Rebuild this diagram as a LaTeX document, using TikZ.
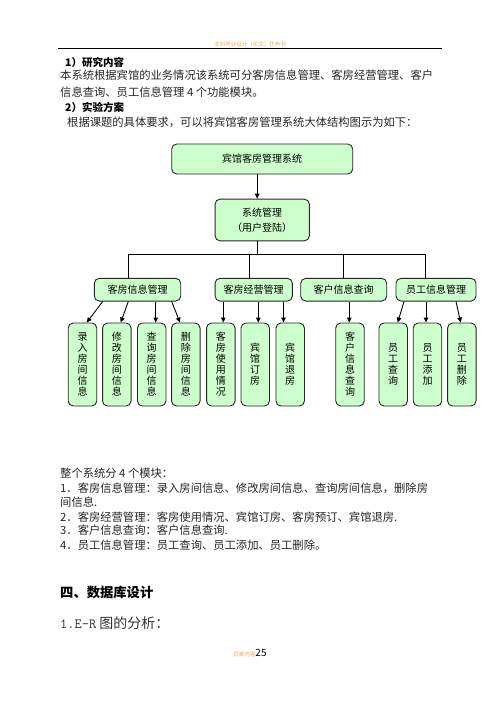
\documentclass[tikz,border=0pt]{standalone}
\usepackage{fontspec}
\setmainfont{Noto Sans CJK SC}
\usepackage{xcolor}
\usetikzlibrary{arrows.meta}
\definecolor{boxgreen}{RGB}{204,255,204}
\definecolor{pageorange}{RGB}{245,165,90}

\begin{document}
\begin{tikzpicture}[
    x=1pt, y=-1pt,
    box/.style={rectangle, draw=black!85, fill=boxgreen, rounded corners=5pt, line width=0.9pt, inner sep=0pt, align=center, font=\fontsize{10}{15}\selectfont},
    leaf/.style={box, minimum width=28.5pt, minimum height=83pt, font=\fontsize{10}{11}\selectfont},
    arrow/.style={-{Triangle[length=5pt, width=4.5pt]}, line width=0.9pt},
    link/.style={line width=0.9pt},
    body/.style={anchor=west, inner sep=0pt, text=black!85, font=\fontsize{11.3}{13}\selectfont},
    title/.style={anchor=west, inner sep=0pt, font=\fontsize{10.5}{12}\selectfont\bfseries}
]
    \fill[white] (0,0) rectangle (500,706);
    \useasboundingbox (0,0) rectangle (500,706);

    % page header
    \node[inner sep=0pt, text=pageorange, font=\fontsize{5.5}{6}\selectfont] (hdr) at (250,44) {本科毕业设计（论文）任务书};
    \coordinate (ruleL) at (58,48);
    \coordinate (ruleR) at (442,48);
    \draw[line width=0.6pt] (ruleL) -- (ruleR);

    % text above the chart
    \node[title] (t1) at (65,62) {1）研究内容};
    \node[body] (p1) at (60,75) {本系统根据宾馆的业务情况该系统可分客房信息管理、客房经营管理、客户};
    \node[body] (p2) at (60,92) {信息查询、员工信息管理 4 个功能模块。};
    \node[title] (t2) at (65,107) {2）实验方案};
    \node[body] (p3) at (67,122) {根据课题的具体要求，可以将宾馆客房管理系统大体结构图示为如下：};

    % chart: top levels
    \node[box, minimum width=181pt, minimum height=30pt] (xt) at (262.2,159) {宾馆客房管理系统};
    \node[box, minimum width=94.3pt, minimum height=41.7pt] (gl) at (262.2,220) {系统管理\\（用户登陆）};

    \node[box, minimum width=86.4pt, minimum height=22.7pt] (kfxx) at (137.5,289.7) {客房信息管理};
    \node[box, minimum width=77.3pt, minimum height=22.7pt] (kfjy) at (253.7,289.7) {客房经营管理};
    \node[box, minimum width=86pt, minimum height=22.7pt] (khcx) at (343.7,289.7) {客户信息查询};
    \node[box, minimum width=80pt, minimum height=22.7pt] (ygxx) at (436,289.7) {员工信息管理};

    % chart: leaves
    \node[leaf] (lr) at (82.5,364.5) {录\\入\\房\\间\\信\\息};
    \node[leaf] (xg) at (116.8,364.5) {修\\改\\房\\间\\信\\息};
    \node[leaf] (cx) at (151.7,364.5) {查\\询\\房\\间\\信\\息};
    \node[leaf] (sc) at (185.8,364.5) {删\\除\\房\\间\\信\\息};
    \node[leaf] (sy) at (220.8,364.5) {客\\房\\使\\用\\情\\况};
    \node[leaf] (dk) at (255.2,364.5) {宾\\馆\\订\\房};
    \node[leaf] (tf) at (290.2,364.5) {宾\\馆\\退\\房};
    \node[leaf] (kh) at (350,364.5) {客\\户\\信\\息\\查\\询};
    \node[leaf] (ycx) at (393.2,364.5) {员\\工\\查\\询};
    \node[leaf] (ytj) at (427.5,364.5) {员\\工\\添\\加};
    \node[leaf] (ysc) at (461.8,364.5) {员\\工\\删\\除};

    % connectors
    \draw[arrow] ([xshift=-5pt]xt.south) -- ([xshift=-5pt]gl.north);

    \coordinate (barL) at (128.3,254.3);
    \coordinate (barR) at (425.7,254.3);
    \draw[link] ([xshift=-5pt]gl.south) -- ([xshift=-5pt]gl.south |- barL);
    \draw[link] (barL) -- (barR);
    \draw[link] (barL) -- (barL |- kfxx.north);
    \draw[link] ([xshift=-4.4pt]kfjy.north |- barL) -- ([xshift=-4.4pt]kfjy.north);
    \draw[link] (khcx.north |- barL) -- (khcx.north);
    \draw[link] (barR) -- (barR |- ygxx.north);

    \draw[arrow] ([xshift=-34.8pt]kfxx.south) -- ([xshift=4.2pt]lr.north);
    \draw[arrow] ([xshift=-9.2pt]kfxx.south) -- ([xshift=3.9pt]xg.north);
    \draw[arrow] ([xshift=18.2pt]kfxx.south) -- ([xshift=4pt]cx.north);
    \draw[arrow] ([xshift=34.2pt]kfxx.south) -- ([xshift=-5.8pt]sc.north);

    \draw[arrow] ([xshift=-30.4pt]kfjy.south) -- ([xshift=2.5pt]sy.north);
    \draw[arrow] ([xshift=4.6pt]kfjy.south) -- ([xshift=3.1pt]dk.north);
    \draw[arrow] ([xshift=29.8pt]kfjy.south) -- ([xshift=-6.7pt]tf.north);

    \draw[arrow] ([xshift=5.6pt]khcx.south) -- ([xshift=-0.7pt]kh.north);

    \draw[arrow] ([xshift=-32pt]ygxx.south) -- ([xshift=4.5pt]ycx.north);
    \draw[arrow] ([xshift=-10pt]ygxx.south) -- ([xshift=-1.5pt]ytj.north);
    \draw[arrow] ([xshift=20pt]ygxx.south) -- ([xshift=-1.1pt]ysc.north);

    % text below the chart
    \node[body] (q0) at (60,473.3) {整个系统分 4 个模块：};
    \node[body] (q1) at (60,488.3) {1．客房信息管理：录入房间信息、修改房间信息、查询房间信息，删除房};
    \node[body] (q1b) at (60,501.7) {间信息.};
    \node[body] (q2) at (60,516.7) {2．客房经营管理：客房使用情况、宾馆订房、客房预订、宾馆退房.};
    \node[body] (q3) at (60,530.5) {3．客户信息查询：客户信息查询.};
    \node[body] (q4) at (60,545) {4．员工信息管理：员工查询、员工添加、员工删除。};

    \node[anchor=west, inner sep=0pt, font=\fontsize{13.3}{15}\selectfont\bfseries] (h4) at (60,592.3) {四、数据库设计};
    \node[anchor=west, inner sep=0pt, text=black!80, font=\fontsize{14}{16}\selectfont] (er) at (60,622.7) {{\ttfamily 1.E-R} 图的分析：};

    % page footer
    \node[inner sep=0pt, font=\fontsize{10}{12}\selectfont] (pg) at (250,652.7) {{\color{pageorange}\fontsize{5.5}{6}\selectfont 页脚内容}25};
\end{tikzpicture}
\end{document}
